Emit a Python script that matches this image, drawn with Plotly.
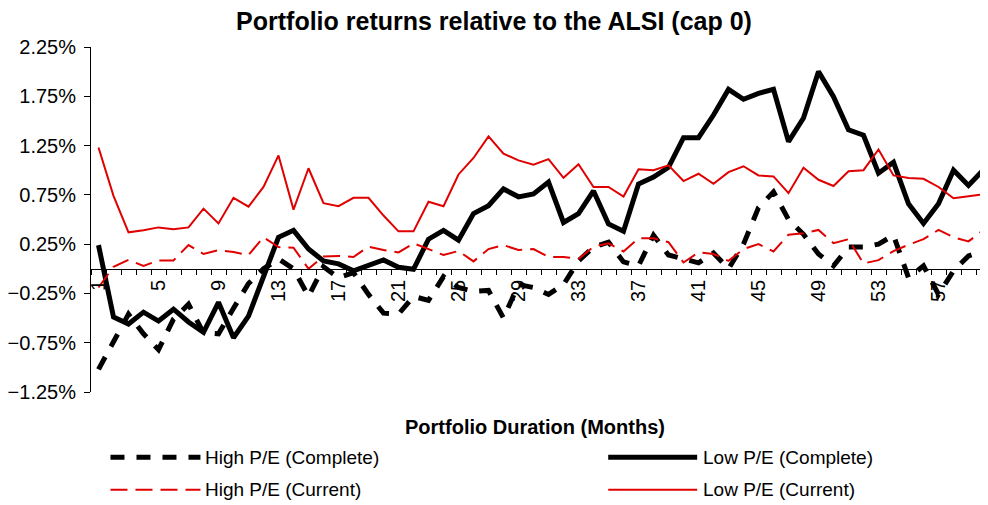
import plotly.graph_objects as go

# ---------------- data (values in %) ----------------
months = list(range(1, 61))
x_tick_vals = list(range(1, 61, 4))
x_tick_text = [str(v) for v in x_tick_vals]

high_pe_complete = [-1.02, -0.74, -0.46, -0.66, -0.82, -0.51, -0.36, -0.65, -0.66, -0.40,
                    -0.15, 0.00, 0.10, 0.00, -0.28, 0.02, -0.09, -0.04, -0.26, -0.45,
                    -0.46, -0.28, -0.32, -0.08, -0.19, -0.23, -0.22, -0.50, -0.16, -0.19,
                    -0.26, -0.16, 0.08, 0.22, 0.27, 0.07, 0.03, 0.34, 0.14, 0.10,
                    0.06, 0.16, 0.00, 0.25, 0.62, 0.78, 0.50, 0.35, 0.15, 0.03,
                    0.22, 0.22, 0.25, 0.34, -0.09, 0.03, -0.26, -0.02, 0.13, 0.18]

low_pe_complete = [0.24, -0.49, -0.56, -0.44, -0.53, -0.41, -0.54, -0.645, -0.34, -0.70,
                   -0.48, -0.08, 0.32, 0.39, 0.20, 0.08, 0.05, -0.02, 0.03, 0.09,
                   0.015, -0.005, 0.30, 0.39, 0.29, 0.56, 0.64, 0.81, 0.73, 0.76,
                   0.88, 0.47, 0.56, 0.79, 0.455, 0.38, 0.86, 0.93, 1.03, 1.33,
                   1.33, 1.56, 1.82, 1.72, 1.78, 1.82, 1.29, 1.53, 2.00, 1.745,
                   1.41, 1.355, 0.97, 1.08, 0.66, 0.46, 0.66, 1.00, 0.845, 1.005]

high_pe_current = [-0.19, 0.02, 0.09, 0.03, 0.085, 0.085, 0.24, 0.15, 0.19, 0.17,
                   0.14, 0.32, 0.22, 0.214, 0.00, 0.125, 0.13, 0.12, 0.224, 0.19,
                   0.166, 0.258, 0.20, 0.14, 0.18, 0.075, 0.20, 0.24, 0.19, 0.20,
                   0.12, 0.12, 0.10, 0.224, 0.258, 0.176, 0.31, 0.31, 0.27, 0.064,
                   0.166, 0.15, 0.08, 0.20, 0.25, 0.176, 0.346, 0.36, 0.394, 0.26,
                   0.30, 0.054, 0.088, 0.18, 0.244, 0.30, 0.394, 0.32, 0.278, 0.394]

low_pe_current = [1.23, 0.74, 0.37, 0.39, 0.42, 0.40, 0.42, 0.61, 0.46, 0.72,
                  0.63, 0.83, 1.15, 0.60, 1.02, 0.665, 0.635, 0.72, 0.72, 0.54,
                  0.38, 0.38, 0.68, 0.635, 0.957, 1.124, 1.344, 1.168, 1.10, 1.056,
                  1.113, 0.923, 1.06, 0.83, 0.83, 0.733, 1.01, 1.00, 1.05, 0.89,
                  0.964, 0.862, 0.98, 1.04, 0.947, 0.937, 0.767, 1.025, 0.903, 0.84,
                  0.99, 1.00, 1.21, 0.947, 0.92, 0.913, 0.83, 0.716, 0.737, 0.754]

series_names = ["High P/E (Complete)", "Low P/E (Complete)",
                "High P/E (Current)", "Low P/E (Current)"]

# ---------------- layout constants ----------------
OFF = 8                      # page body margin in the browser
W, H = 988 - OFF, 505 - OFF
ML, MR, MT, MB = 90.5 - OFF, 0, 46.7 - OFF, 505 - 391.7
Y_MIN, Y_MAX = -1.25, 2.25
FONT = "Liberation Sans, Arial, sans-serif"
RED = "#e00000"

BLACK_DASH = "14px,12px"
RED_DASH = "17px,8px"

styles = [
    dict(color="black", width=5, dash=BLACK_DASH),
    dict(color="black", width=5, dash="solid"),
    dict(color=RED, width=2, dash=RED_DASH),
    dict(color=RED, width=2, dash="solid"),
]
values = [high_pe_complete, low_pe_complete, high_pe_current, low_pe_current]

fig = go.Figure()
for name, vals, st in zip(series_names, values, styles):
    fig.add_trace(go.Scatter(x=months, y=vals, mode="lines", name=name,
                             line=st, showlegend=False, hoverinfo="skip"))

plot_w = W - ML - MR
plot_h = H - MT - MB


def px_x(px):
    """screen x (reference picture) -> paper fraction"""
    return (px - OFF - ML) / plot_w


def px_y(py):
    """screen y (reference picture) -> paper fraction"""
    return (H - MB - (py - OFF)) / plot_h


fig.update_layout(
    width=W, height=H,
    margin=dict(l=ML, r=MR, t=MT, b=MB, pad=0),
    paper_bgcolor="white", plot_bgcolor="white",
    font=dict(family=FONT, color="black", size=20),
    title=dict(text="Portfolio returns relative to the ALSI (cap 0)",
               x=(494 - OFF) / W, xref="container", xanchor="center",
               y=1 - (21 - OFF) / H, yanchor="middle",
               font=dict(size=25, weight="bold", family=FONT)),
    xaxis=dict(range=[0.5, 60.3], anchor="free",
               position=(0 - Y_MIN) / (Y_MAX - Y_MIN),
               showgrid=False, zeroline=False,
               showline=True, linecolor="black", linewidth=1,
               tickmode="array", tickvals=x_tick_vals, ticktext=x_tick_text,
               ticks="outside", ticklen=2, tickcolor="rgba(0,0,0,0)",
               tickangle=-90, tickfont=dict(size=20),
               minor=dict(tick0=0.5, dtick=1, ticks="outside", ticklen=5,
                          tickcolor="black", tickwidth=1, showgrid=False)),
    yaxis=dict(range=[Y_MIN, Y_MAX], showgrid=False, zeroline=False,
               showline=True, linecolor="black", linewidth=1,
               tickmode="linear", tick0=-1.25, dtick=0.5,
               tickformat=".2f", ticksuffix="%",
               ticks="outside", ticklen=6, tickcolor="black",
               ticklabelstandoff=4,
               tickfont=dict(size=20)),
)

# x-axis title
fig.add_annotation(text="<b>Portfolio Duration (Months)</b>", xref="paper", yref="paper",
                   x=px_x(535), y=px_y(427), xanchor="center", yanchor="middle",
                   showarrow=False, font=dict(size=20, family=FONT))

# manual legend (2 x 2)
legend_rows = [457, 489.5]
legend_cols = [(110, 200, 203), (608, 697, 701)]
legend_pos = [(0, 0), (0, 1), (1, 0), (1, 1)]  # (row, col) per series
for name, st, (r, c) in zip(series_names, styles, legend_pos):
    x0, x1, xt = legend_cols[c]
    yy = px_y(legend_rows[r])
    fig.add_shape(type="line", xref="paper", yref="paper",
                  x0=px_x(x0), x1=px_x(x1), y0=yy, y1=yy,
                  line=dict(color=st["color"], width=st["width"], dash=st["dash"]))
    fig.add_annotation(text=name, xref="paper", yref="paper",
                       x=px_x(xt), y=yy, xanchor="left", yanchor="middle",
                       showarrow=False, font=dict(size=19, family=FONT))

fig.write_html("out.html")
